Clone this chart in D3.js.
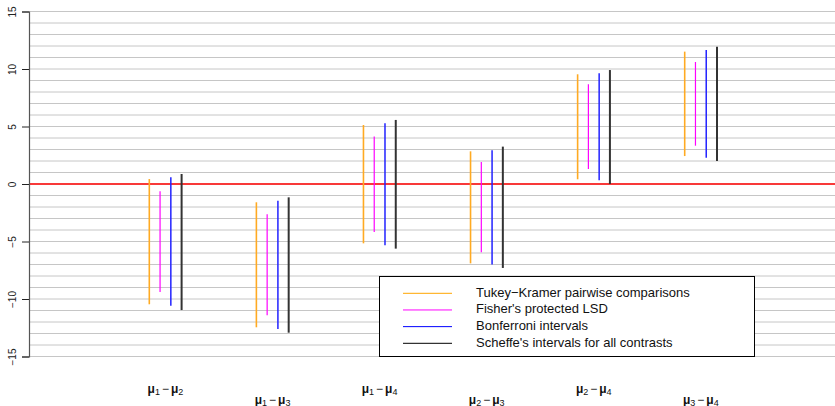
<!DOCTYPE html>
<html>
<head>
<meta charset="utf-8">
<script src="https://cdn.jsdelivr.net/npm/d3@7"></script>
<style>
  html, body { margin: 0; padding: 0; background: #fff; }
  svg { display: block; font-family: "Liberation Sans", Arial, sans-serif; }
</style>
</head>
<body>
<svg id="chart" width="835" height="406"></svg>
<script>
// Pairwise comparisons of four group means (difference i − j)
const comparisons = [[1, 2], [1, 3], [1, 4], [2, 3], [2, 4], [3, 4]];
const methods = ["Tukey\u2212Kramer pairwise comparisons", "Fisher's protected LSD",
                 "Bonferroni intervals", "Scheffe's intervals for all contrasts"];
const methodColors = ["#FFA500", "#FF00FF", "#0000FF", "#000000"];

// Interval bounds for each comparison, one pair of arrays per method
const tukeyLower      = [-10.46, -12.46, -5.16, -6.90, 0.41, 2.43];
const tukeyUpper      = [0.43, -1.59, 5.13, 2.84, 9.54, 11.51];
const fisherLower     = [-9.39, -11.42, -4.17, -5.94, 1.30, 3.33];
const fisherUpper     = [-0.64, -2.64, 4.14, 1.91, 8.67, 10.61];
const bonferroniLower = [-10.58, -12.61, -5.33, -6.99, 0.32, 2.29];
const bonferroniUpper = [0.58, -1.45, 5.28, 2.93, 9.62, 11.65];
const scheffeLower    = [-10.96, -12.93, -5.62, -7.30, 0.00, 2.00];
const scheffeUpper    = [0.87, -1.16, 5.57, 3.25, 9.91, 11.94];

const yTicks = [-15, -10, -5, 0, 5, 10, 15];
const gridValues = d3.range(-15, 16);

const lowers = [tukeyLower, fisherLower, bonferroniLower, scheffeLower];
const uppers = [tukeyUpper, fisherUpper, bonferroniUpper, scheffeUpper];

const svg = d3.select("#chart");
const W = 835;
const axisX = 29;

const y = d3.scaleLinear().domain([-15, 15]).range([356.5, 11.5]);
const keys = comparisons.map(c => c.join("-"));
const xGroup = d3.scalePoint().domain(keys).range([149.3, 684.7]);
const xMethod = d3.scalePoint().domain(d3.range(methods.length)).range([0, 32.3]);
const groupCenter = key => xGroup(key) + 16.15;

// horizontal grid
svg.append("g").selectAll("line").data(gridValues).join("line")
  .attr("x1", axisX).attr("x2", W)
  .attr("y1", d => y(d)).attr("y2", d => y(d))
  .attr("stroke", "#c6c6c6").attr("stroke-width", 1);

// zero reference line
svg.append("line")
  .attr("x1", axisX).attr("x2", W)
  .attr("y1", y(0)).attr("y2", y(0))
  .attr("stroke", "#FF0000").attr("stroke-width", 1.5);

// y axis
const yAxis = d3.axisLeft(y).tickValues(yTicks).tickSize(7)
  .tickFormat(d => d < 0 ? "\u2212" + Math.abs(d) : d);
const gy = svg.append("g").attr("transform", `translate(${axisX},0)`).call(yAxis);
gy.select(".domain").attr("stroke", "#555").attr("stroke-width", 1.2);
gy.selectAll(".tick line").attr("stroke", "#222");
gy.selectAll(".tick text")
  .attr("font-size", 10).attr("fill", "#222")
  .attr("font-family", "Liberation Sans, Arial, sans-serif")
  .attr("text-anchor", "middle").attr("dy", null).attr("x", null)
  .attr("transform", "translate(-16,0) rotate(-90)")
  .attr("dominant-baseline", "middle");

// interval segments
const widths = [1.6, 1.2, 1.5, 2];
const barColors = ["#FFAA22", "#FF00FF", "#2222FF", "#333333"];
methods.forEach((m, k) => {
  svg.append("g").selectAll("line").data(keys).join("line")
    .attr("x1", (d) => xGroup(d) + xMethod(k))
    .attr("x2", (d) => xGroup(d) + xMethod(k))
    .attr("y1", (d, i) => y(uppers[k][i]))
    .attr("y2", (d, i) => y(lowers[k][i]))
    .attr("stroke", barColors[k])
    .attr("stroke-width", widths[k]);
});

// category labels: μi − μj, alternating rows
const lab = svg.append("g").selectAll("text").data(comparisons).join("text")
  .attr("x", (d, i) => groupCenter(keys[i]))
  .attr("y", (d, i) => i % 2 === 0 ? 393 : 403.5)
  .attr("text-anchor", "middle")
  .attr("font-size", 12)
  .attr("fill", "#111");
lab.each(function (d) {
  const t = d3.select(this);
  t.append("tspan").attr("font-weight", "bold").text("\u03bc");
  t.append("tspan").attr("font-size", 9).attr("dy", 2).text(d[0]);
  t.append("tspan").attr("dy", -2).attr("dx", 2).text("\u2212");
  t.append("tspan").attr("dx", 2).attr("font-weight", "bold").text("\u03bc");
  t.append("tspan").attr("font-size", 9).attr("dy", 2).text(d[1]);
});

// legend
const lg = svg.append("g");
lg.append("rect")
  .attr("x", 379.5).attr("y", 276.5).attr("width", 375).attr("height", 80)
  .attr("fill", "#fff").attr("stroke", "#000").attr("stroke-width", 1);
const rowY = d3.scalePoint().domain(d3.range(methods.length)).range([293.3, 343.3]);
methods.forEach((m, k) => {
  lg.append("line")
    .attr("x1", 403).attr("x2", 452)
    .attr("y1", rowY(k)).attr("y2", rowY(k))
    .attr("stroke", methodColors[k]).attr("stroke-width", 1);
  lg.append("text")
    .attr("x", 476).attr("y", rowY(k))
    .attr("dominant-baseline", "middle")
    .attr("font-size", 13).attr("fill", "#111")
    .text(m);
});
</script>
</body>
</html>
